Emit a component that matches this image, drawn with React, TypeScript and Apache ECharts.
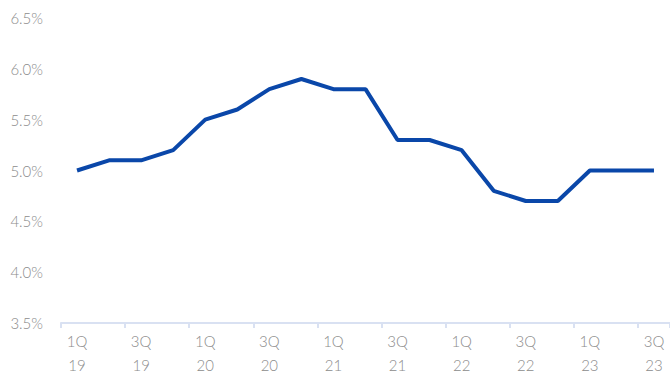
import React, { useEffect, useRef } from "react";
import * as echarts from "echarts";

const categories = [
  "1Q\n19", "2Q\n19", "3Q\n19", "4Q\n19",
  "1Q\n20", "2Q\n20", "3Q\n20", "4Q\n20",
  "1Q\n21", "2Q\n21", "3Q\n21", "4Q\n21",
  "1Q\n22", "2Q\n22", "3Q\n22", "4Q\n22",
  "1Q\n23", "2Q\n23", "3Q\n23",
];
const values = [5.0, 5.1, 5.1, 5.2, 5.5, 5.6, 5.8, 5.9, 5.8, 5.8, 5.3, 5.3, 5.2, 4.8, 4.7, 4.7, 5.0, 5.0, 5.0];

export default function App() {
  const ref = useRef<HTMLDivElement>(null);
  useEffect(() => {
    if (!ref.current) return;
    const chart = echarts.init(ref.current, null, { renderer: "svg" });
    chart.setOption({
      animation: false,
      grid: { left: 61, right: -3, top: 18, bottom: 48, containLabel: false },
      xAxis: {
        type: "category",
        data: categories,
        boundaryGap: true,
        axisLine: { lineStyle: { color: "#d9e1f2", width: 2 } },
        axisTick: { show: true, length: 5, lineStyle: { color: "#d9e1f2", width: 2 } },
        axisLabel: {
          interval: 1,
          color: "#8c8c8c",
          fontFamily: "Lato",
          fontWeight: 300,
          fontSize: 15,
          lineHeight: 24,
          margin: 6,
        },
      },
      yAxis: {
        type: "value",
        min: 3.5,
        max: 6.5,
        interval: 0.5,
        splitLine: { show: false },
        axisLine: { show: false },
        axisTick: { show: false },
        axisLabel: {
          color: "#8c8c8c",
          fontFamily: "Lato",
          fontWeight: 300,
          fontSize: 15,
          margin: 18,
          formatter: (v: number) => v.toFixed(1) + "%",
        },
      },
      series: [
        {
          type: "line",
          data: values,
          symbol: "none",
          lineStyle: { color: "#0a47a9", width: 4 },
        },
      ],
    });
    return () => chart.dispose();
  }, []);
  return <div ref={ref} style={{ width: 670, height: 377, position: "absolute", left: 0, top: 0 }} />;
}
